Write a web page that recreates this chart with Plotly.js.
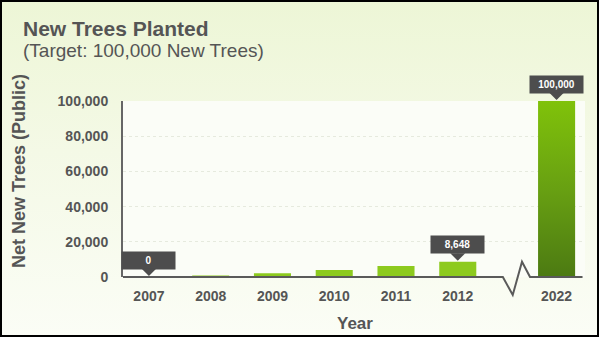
<!DOCTYPE html>
<html>
<head>
<meta charset="utf-8">
<script src="https://cdn.plot.ly/plotly-3.0.1.min.js"></script>
<style>
  html, body { margin: 0; padding: 0; }
  #wrap { position: relative; width: 599px; height: 337px;
          background: linear-gradient(to bottom, #edf6d6 0%, #f4f9e6 45%, #fbfdf6 100%); }
  #chart { position: absolute; left: 0; top: 0; width: 599px; height: 337px; }
  #frame { position: absolute; left: 0; top: 0; width: 599px; height: 337px;
           box-sizing: border-box; border: 2px solid #000; pointer-events: none; }
</style>
</head>
<body>
<div id="wrap"><div id="chart"></div><div id="frame"></div></div>
<script>
// ---- data ----
var years = ['2007', '2008', '2009', '2010', '2011', '2012', '2022'];
var positions = [0, 1, 2, 3, 4, 5, 6.6];
var trees = [0, 800, 2100, 4000, 6200, 8648, 100000];
var calloutYears = ['2007', '2012', '2022'];
var calloutText = ['0', '8,648', '100,000'];
var yTicks = [0, 20000, 40000, 60000, 80000, 100000];

// ---- layout geometry helpers (plot area in pixels) ----
var W = 599, H = 337;
var L = 123, R = 585, T = 101, B = 277;
function px(x) { return (x - L) / (R - L); }
function py(y) { return (B - y) / (B - T); }

var grey = '#555555';
var font = 'Liberation Sans, Arial, sans-serif';

var barColors = years.map(function (y) { return y === '2022' ? '#6a9f12' : '#8dca1e'; });

var trace = {
  type: 'bar',
  x: positions,
  y: trees,
  width: 0.6,
  marker: { color: barColors, line: { width: 0 } },
  hoverinfo: 'skip'
};

var annotations = [];
calloutYears.forEach(function (yr, i) {
  var k = years.indexOf(yr);
  annotations.push({
    x: positions[k], y: trees[k], xref: 'x', yref: 'y',
    text: calloutText[i],
    showarrow: true, ax: 0, ay: -17,
    arrowhead: 1, arrowsize: 1.25, arrowwidth: 2, arrowcolor: '#4d4d4d', standoff: 1,
    bgcolor: '#4d4d4d', borderpad: 1, width: 51, height: 15,
    font: { family: font, size: 10, color: '#ffffff', weight: 'bold' }
  });
});
annotations.push({
  xref: 'paper', yref: 'paper', x: px(21), y: py(28), xanchor: 'left', yanchor: 'middle',
  text: 'New Trees Planted', showarrow: false,
  font: { family: font, size: 21, color: grey, weight: 'bold' }
});
annotations.push({
  xref: 'paper', yref: 'paper', x: px(21), y: py(50), xanchor: 'left', yanchor: 'middle',
  text: '(Target: 100,000 New Trees)', showarrow: false,
  font: { family: font, size: 19, color: grey }
});
annotations.push({
  xref: 'paper', yref: 'paper', x: px(19), y: py(171), xanchor: 'center', yanchor: 'middle',
  text: 'Net New Trees (Public)', showarrow: false, textangle: -90,
  font: { family: font, size: 18, color: grey, weight: 'bold' }
});
annotations.push({
  xref: 'paper', yref: 'paper', x: px(355), y: py(323), xanchor: 'center', yanchor: 'middle',
  text: 'Year', showarrow: false,
  font: { family: font, size: 17, color: grey, weight: 'bold' }
});

// x axis baseline with a break between 2012 and 2022
var shapes = [{
  type: 'path', xref: 'x', yref: 'paper',
  path: 'M -0.42,0 L 5.73,0 L 5.89,-0.102 L 6.04,0.087 L 6.17,0 L 7.02,0',
  line: { color: '#5a5a5a', width: 2 }
}];

var layout = {
  width: W, height: H,
  margin: { l: L, r: W - R, t: T, b: H - B, pad: 0 },
  paper_bgcolor: 'rgba(0,0,0,0)',
  plot_bgcolor: '#fbfdf7',
  showlegend: false,
  xaxis: {
    range: [-0.42, 7.06], tickvals: positions, ticktext: years,
    showline: false, zeroline: false, showgrid: false, ticks: '',
    ticklabelstandoff: 9,
    tickfont: { family: font, size: 14, color: grey, weight: 'bold' },
    fixedrange: true
  },
  yaxis: {
    range: [0, 100000], tickvals: yTicks, tickformat: ',',
    showline: true, linecolor: '#666666', linewidth: 2,
    zeroline: false, showgrid: true, gridcolor: '#e6eade', griddash: 'dot', gridwidth: 1,
    ticks: '', ticklabelstandoff: 10,
    tickfont: { family: font, size: 14, color: grey, weight: 'bold' },
    fixedrange: true
  },
  annotations: annotations,
  shapes: shapes
};

Plotly.newPlot('chart', [trace], layout, { displayModeBar: false, staticPlot: true }).then(function () {
  // vertical gradient on the 2022 bar
  var svg = document.querySelector('#chart svg.main-svg');
  var ns = 'http://www.w3.org/2000/svg';
  var defs = svg.querySelector('defs') || svg.insertBefore(document.createElementNS(ns, 'defs'), svg.firstChild);
  var g = document.createElementNS(ns, 'linearGradient');
  g.setAttribute('id', 'barGrad');
  g.setAttribute('x1', '0'); g.setAttribute('y1', '0');
  g.setAttribute('x2', '0'); g.setAttribute('y2', '1');
  [['0', '#80c20a'], ['0.5', '#68a012'], ['1', '#4c7a12']].forEach(function (s) {
    var st = document.createElementNS(ns, 'stop');
    st.setAttribute('offset', s[0]); st.setAttribute('stop-color', s[1]);
    g.appendChild(st);
  });
  defs.appendChild(g);
  var bars = document.querySelectorAll('#chart .bars .point path');
  var k = years.indexOf('2022');
  if (bars[k]) bars[k].style.fill = 'url(#barGrad)';
});
</script>
</body>
</html>
